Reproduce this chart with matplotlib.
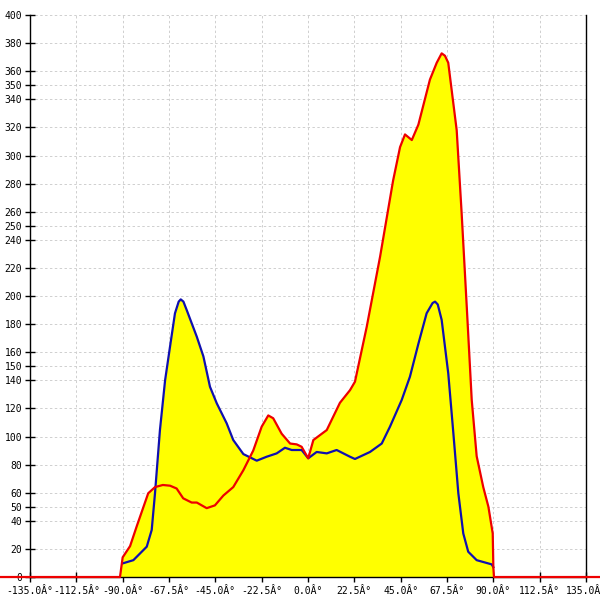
# Angular distribution plot - two curves over a yellow filled area
import numpy as np
import matplotlib
matplotlib.use("Agg")
import matplotlib.pyplot as plt

# red curve (angle in degrees, value)
red_angle = [-150, -91.3, -90.0, -86.4, -83.2, -77.6, -74.3, -70.5, -67.0, -63.8, -60.6,
             -56.5, -54.0, -49.2, -45.2, -41.1, -36.3, -31.4, -26.6, -22.5, -19.3,
             -16.9, -12.8, -8.7, -5.5, -3.1, 0.1, 2.6, 9.1, 15.5, 20.4, 22.8, 28.5,
             35.0, 41.3, 44.7, 47.1, 50.4, 53.6, 59.2, 62.5, 64.9, 66.5, 68.1, 72.2,
             74.6, 77.1, 79.5, 81.9, 85.1, 87.6, 89.7, 90.0, 90.3, 150]
red_value = [0, 0, 14, 22, 36, 59.6, 64, 65.5, 65, 63, 56,
             53, 53, 49, 51, 58, 64, 76, 90, 107, 115,
             113, 102, 95, 94.4, 92.7, 84.5, 97.5, 104.6, 124, 133, 139, 178,
             228, 282, 306, 315, 311, 322, 354, 366, 372.7, 371, 366, 318,
             259, 192, 126, 86, 64, 50, 31, 7, 0, 0]

# blue curve
blue_angle = [-90.0, -84.8, -78.3, -75.9, -74.3, -71.9, -69.4, -67.0, -64.6, -62.8,
              -61.8, -60.5, -58.9, -54.0, -50.8, -47.6, -44.3, -39.5, -36.3, -31.4,
              -24.9, -20.1, -15.2, -11.2, -7.9, -3.1, 0.1, 4.2, 9.1, 13.9, 20.4,
              22.8, 30.1, 35.8, 39.8, 45.5, 49.5, 53.6, 57.6, 60.5, 61.7, 63.0,
              64.9, 68.1, 70.6, 73.0, 75.4, 77.8, 81.9, 89.2, 90.0]
blue_value = [9.7, 12, 21.6, 33.5, 59.6, 104.6, 140, 164, 187.7, 196,
              197.6, 196, 190, 171, 157, 135.4, 123.6, 109.4, 97.5, 87.5,
              82.8, 85.6, 88, 92, 90.4, 90.4, 84.5, 89, 88, 90.4, 85.6,
              84, 89, 95, 107, 126, 142.6, 166, 187.7, 195, 196, 194,
              183, 145, 102, 59.6, 31, 18, 12, 9, 7]

x_ticks = np.arange(-135, 135.1, 22.5)
x_tick_labels = ["%.1f\u00c2\u00b0" % t for t in x_ticks]
y_ticks = [0, 20, 40, 50, 60, 80, 100, 120, 140, 150, 160, 180, 200, 220, 240,
           250, 260, 280, 300, 320, 340, 350, 360, 380, 400]

fig = plt.figure(figsize=(6, 6), dpi=100)
ax = fig.add_axes([0.05, 0.0383, 0.9267, 0.9367])

# yellow area under both curves
ax.fill_between(red_angle, red_value, 0, color="#ffff00", linewidth=0, zorder=1)
ax.fill_between(blue_angle, blue_value, 0, color="#ffff00", linewidth=0, zorder=1)

ax.plot(blue_angle, blue_value, color="#1010b0", linewidth=1.6, zorder=3,
        solid_joinstyle="round")
ax.plot(red_angle, red_value, color="#ee0000", linewidth=1.6, zorder=4,
        clip_on=False, solid_joinstyle="round")

ax.set_xlim(-135, 135)
ax.set_ylim(0, 400)

ax.set_xticks(x_ticks)
ax.set_xticklabels(x_tick_labels)
ax.set_yticks(y_ticks)
ax.set_yticklabels([str(v) for v in y_ticks])

for lab in ax.get_xticklabels() + ax.get_yticklabels():
    lab.set_family("DejaVu Sans Mono")
    lab.set_fontsize(7)

ax.tick_params(axis="both", direction="inout", length=7, width=1, color="black", pad=2)
ax.tick_params(axis="x", pad=3)

ax.grid(True, color="#cfcfcf", linestyle=(0, (2.5, 2.5)), linewidth=0.7, zorder=0)
ax.set_axisbelow(True)

ax.spines["top"].set_visible(False)
for side in ["left", "right", "bottom"]:
    ax.spines[side].set_color("black")
    ax.spines[side].set_linewidth(1)

fig.savefig("out.png", dpi=100)
print("saved out.png")
